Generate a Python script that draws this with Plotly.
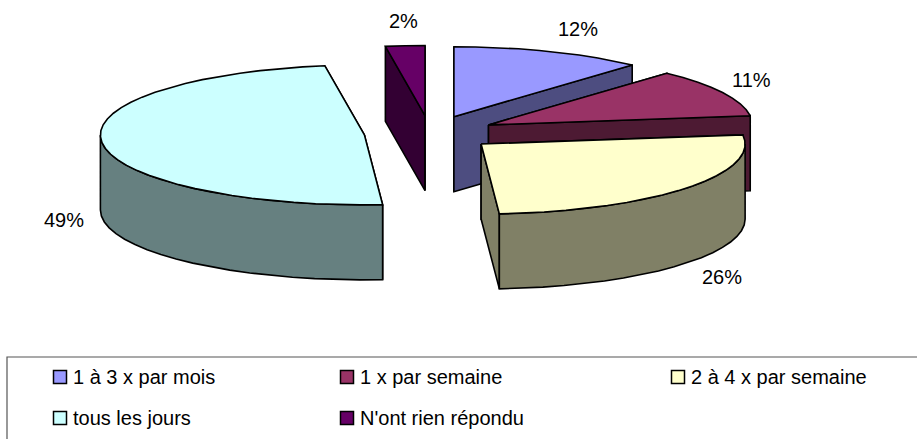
import numpy as np
import plotly.graph_objects as go

categories = ["1 à 3 x par mois", "1 x par semaine", "2 à 4 x par semaine", "tous les jours", "N'ont rien répondu"]
values = [11.8, 11.1, 26.0, 48.7, 2.4]
colors = ["#9999FF", "#993366", "#FFFFCC", "#CCFFFF", "#660066"]
dark_colors = ["#4D4D80", "#4D1A33", "#808066", "#668080", "#330033"]

# back to front
draw_order = [4, 0, 1, 3, 2]

# pie geometry in pixels
CX, CY = 430, 133
RX, RY = 264, 70
DEPTH = 75
EXPLODE = 0.25

# where the labels and legend go
label_pos = [(578, 29), (751, 80), (722, 277), (64, 220), (403, 21)]
legend_pos = [(60, 377), (347, 377), (678, 377), (60, 418), (347, 418)]
LINE = dict(color="black", width=1.6)


def rim(cx, cy, a0, a1, dy=0):
    a = np.radians(np.linspace(a0, a1, max(2, int(abs(a1 - a0) / 5) + 2)))
    return cx + RX * np.sin(a), cy - RY * np.cos(a) + dy


def add_poly(fig, x, y, color):
    fig.add_trace(go.Scatter(
        x=np.append(x, x[0]), y=np.append(y, y[0]), mode="lines", fill="toself",
        fillcolor=color, line=LINE, hoverinfo="skip", showlegend=False,
    ))


def add_wall(fig, cx, cy, angle, color):
    rx, ry = rim(cx, cy, angle, angle)
    x = [cx, rx[0], rx[0], cx]
    y = [cy, ry[0], ry[0] + DEPTH, cy + DEPTH]
    add_poly(fig, np.array(x), np.array(y), color)


fig = go.Figure()

edges = np.cumsum([0] + values) * 3.6
for i in draw_order:
    a0, a1 = edges[i], edges[i + 1]
    mid = np.radians((a0 + a1) / 2)
    cx = CX + EXPLODE * RX * np.sin(mid)
    cy = CY - EXPLODE * RY * np.cos(mid)

    add_wall(fig, cx, cy, a0, dark_colors[i])
    add_wall(fig, cx, cy, a1, dark_colors[i])

    # only the front half of the outer wall can be seen
    v0, v1 = max(a0, 90), min(a1, 270)
    if v0 < v1:
        tx, ty = rim(cx, cy, v0, v1)
        add_poly(fig, np.concatenate([tx, tx[::-1]]),
                 np.concatenate([ty, ty[::-1] + DEPTH]), dark_colors[i])

    tx, ty = rim(cx, cy, a0, a1)
    add_poly(fig, np.concatenate([[cx], tx]), np.concatenate([[cy], ty]), colors[i])

# legend swatches
fig.add_trace(go.Scatter(
    x=[p[0] for p in legend_pos], y=[p[1] for p in legend_pos], mode="markers",
    marker=dict(symbol="square", size=13, color=colors, line=dict(color="black", width=1.5)),
    hoverinfo="skip", showlegend=False,
))

font = dict(family="Liberation Sans, Arial, sans-serif", size=20, color="black")
for v, (x, y) in zip(values, label_pos):
    fig.add_annotation(x=x, y=y, text=f"{round(v)}%", showarrow=False, font=font)
for name, (x, y) in zip(categories, legend_pos):
    fig.add_annotation(x=x + 11, y=y, text=name, showarrow=False, xanchor="left", font=font)

fig.update_layout(
    width=917, height=439, margin=dict(l=0, r=0, t=0, b=0),
    paper_bgcolor="white", plot_bgcolor="white", showlegend=False,
    xaxis=dict(range=[0, 917], visible=False),
    yaxis=dict(range=[439, 0], visible=False),
    shapes=[dict(type="rect", x0=7, y0=357, x1=930, y1=450,
                 line=dict(color="#555555", width=1.2))],
)

# drop the browser's default body margin so the figure fills the window
fig.write_html("out.html", config=dict(displayModeBar=False),
               post_script="document.body.style.margin = '0';")
